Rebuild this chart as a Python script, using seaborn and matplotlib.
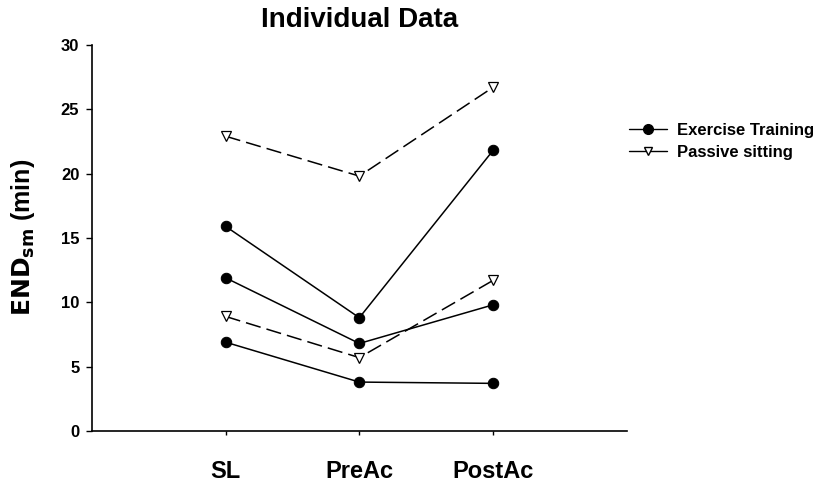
import matplotlib
matplotlib.use("Agg")
import matplotlib.pyplot as plt
import seaborn as sns
import pandas as pd
from matplotlib.lines import Line2D

categories = ["SL", "PreAc", "PostAc"]
exercise_1 = [15.9, 8.8, 21.8]
exercise_2 = [11.9, 6.8, 9.8]
exercise_3 = [6.9, 3.8, 3.7]
passive_1 = [22.9, 19.8, 26.7]
passive_2 = [8.9, 5.7, 11.7]
yticks = [0, 5, 10, 15, 20, 25, 30]

series = {
    ("Exercise Training", "E1"): exercise_1,
    ("Exercise Training", "E2"): exercise_2,
    ("Exercise Training", "E3"): exercise_3,
    ("Passive sitting", "P1"): passive_1,
    ("Passive sitting", "P2"): passive_2,
}
rows = []
for (grp, subj), vals in series.items():
    for i, v in enumerate(vals):
        rows.append({"group": grp, "subject": subj, "x": i + 1, "value": v})
df = pd.DataFrame(rows)

sns.set_theme(style="ticks")
plt.rcParams["font.family"] = ["Liberation Sans", "DejaVu Sans"]
plt.rcParams["text.color"] = "black"
plt.rcParams["axes.labelcolor"] = "black"

fig = plt.figure(figsize=(8.27, 4.87), dpi=100)
ax = fig.add_axes([0.111, 0.115, 0.647, 0.793])

for subj, sub in df.groupby("subject"):
    grp = sub["group"].iloc[0]
    if grp == "Exercise Training":
        sns.lineplot(data=sub, x="x", y="value", ax=ax, color="black", lw=1.1,
                     marker="o", markersize=7.5, markerfacecolor="black",
                     markeredgecolor="black", estimator=None, legend=False)
    else:
        sns.lineplot(data=sub, x="x", y="value", ax=ax, color="black", lw=1.1,
                     marker="v", markersize=7, markerfacecolor="white",
                     markeredgecolor="black", markeredgewidth=0.9,
                     dashes=False, estimator=None, legend=False)
        ax.lines[-1].set_dashes((10, 4))

ax.set_xlim(0, 4)
ax.set_ylim(0, 30)
ax.set_xticks([1, 2, 3])
ax.set_xticklabels(categories, fontsize=17, fontweight="bold")
ax.set_yticks(yticks)
ax.set_yticklabels([str(t) for t in yticks], fontsize=12, fontweight="bold")
ax.tick_params(axis="x", length=3, width=1, pad=18, colors="black")
ax.tick_params(axis="y", length=4, width=1, pad=5, colors="black")
ax.set_xlabel("")
ax.set_ylabel(r"$\mathbf{END_{sm}}$ (min)", fontsize=18, fontweight="bold",
              labelpad=17, color="black")
for s in ["top", "right"]:
    ax.spines[s].set_visible(False)
for s in ["left", "bottom"]:
    ax.spines[s].set_linewidth(1.2)
    ax.spines[s].set_color("black")
ax.set_title("Individual Data", fontsize=20, fontweight="bold", pad=13,
             color="black")

handles = [
    Line2D([], [], color="black", lw=1, marker="o", markersize=7,
           markerfacecolor="black"),
    Line2D([], [], color="black", lw=1, marker="v", markersize=6,
           markerfacecolor="white"),
]
fig.legend(handles, ["Exercise Training", "Passive sitting"], loc="upper left",
           bbox_to_anchor=(0.742, 0.779), frameon=False, handlelength=2.3,
           handletextpad=0.6, labelspacing=0.45,
           prop={"weight": "bold", "size": 12})

fig.savefig("out.png", dpi=100)
